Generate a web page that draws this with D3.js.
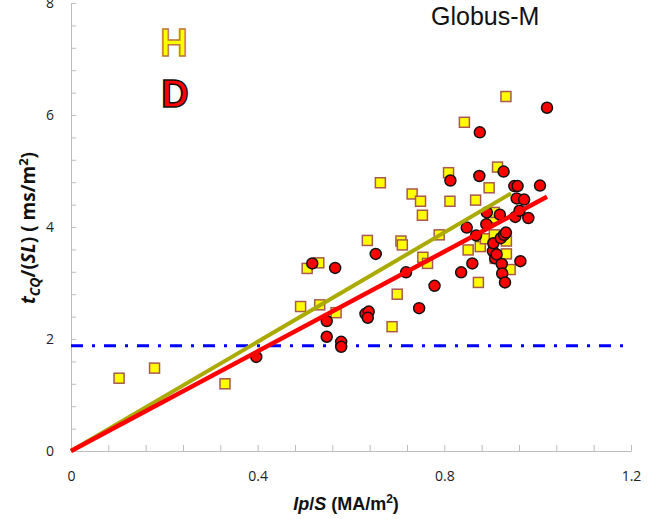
<!DOCTYPE html>
<html>
<head>
<meta charset="utf-8">
<script src="https://cdn.jsdelivr.net/npm/d3@7"></script>
<style>
  html, body { margin: 0; padding: 0; background: #fff; }
  svg { display: block; }
  .tick text { font-family: "Open Sans", "Liberation Sans", sans-serif; font-size: 14px; fill: #222; }
</style>
</head>
<body>
<svg id="chart" width="671" height="519"></svg>
<script>
// H discharges: Ip/S (MA/m^2) and tCQ/(SL) (ms/m^2)
const hX = [0.103, 0.179, 0.330, 0.492, 0.506, 0.531, 0.533, 0.568, 0.635, 0.663,
            0.688, 0.699, 0.707, 0.710, 0.731, 0.749, 0.753, 0.754, 0.764, 0.789,
            0.809, 0.812, 0.843, 0.851, 0.867, 0.873, 0.877, 0.888, 0.896, 0.905,
            0.907, 0.907, 0.909, 0.914, 0.932, 0.933, 0.933, 0.941];
const hY = [1.30, 1.48, 1.20, 2.58, 3.26, 3.36, 2.61, 2.47, 3.76, 4.79,
            2.22, 2.80, 3.75, 3.68, 4.59, 4.46, 4.21, 3.46, 3.35, 3.86,
            4.97, 4.46, 5.87, 3.59, 4.48, 3.01, 3.65, 3.79, 4.70, 4.16,
            4.26, 3.86, 3.44, 5.07, 6.33, 3.75, 3.52, 3.24];

// D discharges
const dX = [0.397, 0.517, 0.548, 0.548, 0.566, 0.579, 0.579, 0.631, 0.638, 0.636,
            0.653, 0.718, 0.746, 0.779, 0.813, 0.836, 0.848, 0.860, 0.868, 0.875,
            0.876, 0.890, 0.891, 0.904, 0.905, 0.909, 0.912, 0.919, 0.921, 0.923,
            0.924, 0.927, 0.928, 0.930, 0.932, 0.950, 0.952, 0.955, 0.957, 0.961,
            0.963, 0.971, 0.980, 1.005, 1.020];
const dY = [1.68, 3.35, 2.32, 2.04, 3.27, 1.95, 1.86, 2.45, 2.49, 2.38,
            3.52, 3.19, 2.55, 2.95, 4.83, 3.19, 3.99, 3.35, 3.85, 4.91,
            5.69, 4.05, 4.26, 3.57, 3.71, 3.44, 3.51, 4.22, 3.80, 3.34,
            3.17, 4.99, 3.86, 3.01, 3.90, 4.73, 4.18, 4.51, 4.73, 4.29,
            3.39, 4.49, 4.16, 4.74, 6.13];

// Linear fits through the origin
const hFitX = [0, 0.943];
const hFitY = [0, 4.60];
const dFitX = [0, 1.02];
const dFitY = [0, 4.54];

// Horizontal reference level
const refX = [0, 1.2];
const refY = [1.88, 1.88];

// Axis ticks
const xTicks = d3.range(0, 1.2001, 0.08);
const xLabels = [0, 0.4, 0.8, 1.2];
const yTicks = d3.range(0, 8.001, 0.4);
const yLabels = [0, 2, 4, 6, 8];

const svg = d3.select("#chart");
const x = d3.scaleLinear().domain([0, 1.2]).range([71, 631]);
const y = d3.scaleLinear().domain([0, 8]).range([451, 3]);

const near = (v, arr) => arr.some(a => Math.abs(a - v) < 1e-6);

// X axis (ticks point inward)
const gx = svg.append("g")
  .attr("transform", `translate(0,${y(0)})`)
  .call(d3.axisBottom(x)
    .tickValues(xTicks)
    .tickSizeInner(-6)
    .tickSizeOuter(0)
    .tickPadding(20)
    .tickFormat(d => near(d, xLabels) ? d3.format("")(+d.toFixed(1)) : ""));
gx.select(".domain").attr("stroke", "#bdbdbd");
gx.selectAll(".tick line").attr("stroke", "#bdbdbd");

// Y axis
const gy = svg.append("g")
  .attr("transform", `translate(${x(0)},0)`)
  .call(d3.axisLeft(y)
    .tickValues(yTicks)
    .tickSizeInner(-5)
    .tickSizeOuter(0)
    .tickPadding(17)
    .tickFormat(d => near(d, yLabels) ? d3.format("")(Math.round(d)) : ""));
gy.select(".domain").attr("stroke", "#bdbdbd");
gy.selectAll(".tick line").attr("stroke", "#bdbdbd");

// Reference dash-dot line
const line = d3.line().x(d => x(d[0])).y(d => y(d[1]));
svg.append("path")
  .attr("d", line(d3.zip(refX, refY)))
  .attr("fill", "none")
  .attr("stroke", "#0000ff")
  .attr("stroke-width", 3)
  .attr("stroke-dasharray", "12,9,3,9");

// H markers
svg.append("g").selectAll("rect")
  .data(d3.zip(hX, hY))
  .join("rect")
  .attr("x", d => x(d[0]) - 5)
  .attr("y", d => y(d[1]) - 5)
  .attr("width", 10)
  .attr("height", 10)
  .attr("fill", "#ffff00")
  .attr("stroke", "#a8584e")
  .attr("stroke-width", 1.5);

// D markers
svg.append("g").selectAll("circle")
  .data(d3.zip(dX, dY))
  .join("circle")
  .attr("cx", d => x(d[0]))
  .attr("cy", d => y(d[1]))
  .attr("r", 5.5)
  .attr("fill", "#ff0000")
  .attr("stroke", "#111")
  .attr("stroke-width", 1.5);

// Fit lines
svg.append("path")
  .attr("d", line(d3.zip(hFitX, hFitY)))
  .attr("fill", "none")
  .attr("stroke", "#aaaa00")
  .attr("stroke-width", 4);
svg.append("path")
  .attr("d", line(d3.zip(dFitX, dFitY)))
  .attr("fill", "none")
  .attr("stroke", "#ff0000")
  .attr("stroke-width", 4.5);

// Title
svg.append("text")
  .attr("x", 431).attr("y", 25)
  .attr("font-family", "Liberation Sans, Arial, sans-serif")
  .attr("font-size", 25)
  .attr("fill", "#111")
  .text("Globus-M");

// Series labels
svg.append("text")
  .attr("x", 174).attr("y", 56)
  .attr("text-anchor", "middle")
  .attr("font-family", "Liberation Sans, Arial, sans-serif")
  .attr("font-weight", "bold")
  .attr("font-size", 38)
  .attr("fill", "#ffff00")
  .attr("stroke", "#c07a35")
  .attr("stroke-width", 1.5)
  .text("H");
svg.append("text")
  .attr("x", 175).attr("y", 107)
  .attr("text-anchor", "middle")
  .attr("font-family", "Liberation Sans, Arial, sans-serif")
  .attr("font-weight", "bold")
  .attr("font-size", 38)
  .attr("fill", "#ff0000")
  .attr("stroke", "#111")
  .attr("stroke-width", 1.5)
  .text("D");

// X axis title
const xt = svg.append("text")
  .attr("x", 346).attr("y", 510)
  .attr("text-anchor", "middle")
  .attr("font-family", "Liberation Sans, Arial, sans-serif")
  .attr("font-weight", "bold")
  .attr("font-size", 18)
  .attr("fill", "#111");
xt.append("tspan").attr("font-style", "italic").text("Ip");
xt.append("tspan").text("/");
xt.append("tspan").attr("font-style", "italic").text("S");
xt.append("tspan").text(" (MA/m");
xt.append("tspan").attr("font-size", 12).attr("dy", -7).text("2");
xt.append("tspan").attr("dy", 7).text(")");

// Y axis title
const yt = svg.append("text")
  .attr("transform", "translate(35,228) rotate(-90)")
  .attr("text-anchor", "middle")
  .attr("font-family", "Open Sans, Liberation Sans, sans-serif")
  .attr("font-weight", "bold")
  .attr("font-size", 19)
  .attr("fill", "#111");
yt.append("tspan").attr("font-style", "italic").text("t");
yt.append("tspan").attr("font-style", "italic").attr("font-size", 14).attr("dy", 5).text("CQ");
yt.append("tspan").attr("dy", -5).text("/(");
yt.append("tspan").attr("font-style", "italic").text("SL");
yt.append("tspan").text(") ( ms/m");
yt.append("tspan").attr("font-size", 13).attr("dy", -7).text("2");
yt.append("tspan").attr("dy", 7).text(")");
</script>
</body>
</html>
